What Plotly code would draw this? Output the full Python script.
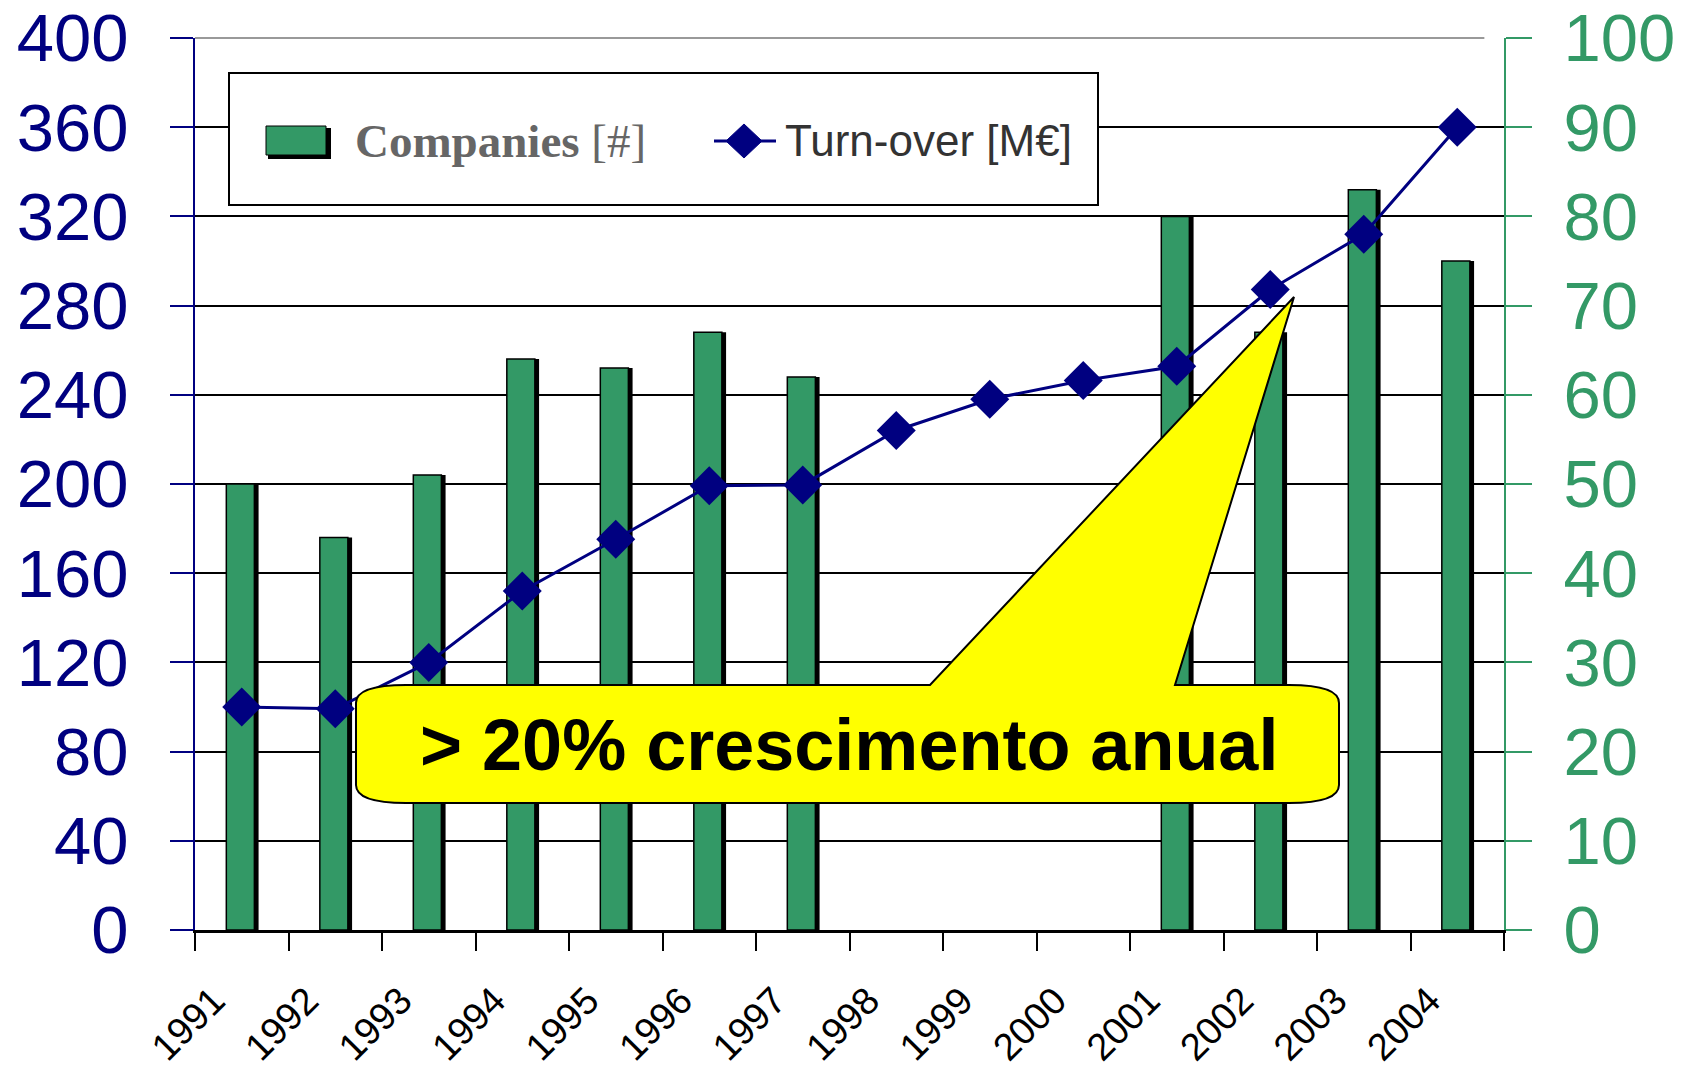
import plotly.graph_objects as go

# data
years = ["1991", "1992", "1993", "1994", "1995", "1996", "1997",
         "1998", "1999", "2000", "2001", "2002", "2003", "2004"]
companies = [200, 176, 204, 256, 252, 268, 248, None, None, None, 320, 268, 332, 300]
turnover = [25, 24.8, 30, 38, 43.8, 49.8, 49.9, 56, 59.5, 61.6, 63.2, 71.8, 78, 90]

NAVY = "#000080"
GREEN = "#339966"

W, H = 1691, 1069
PAGE_OFF = 8  # default body margin of the html page
L_PX, R_PX, T_PX, B_PX = 195, 1504, 38, 930  # plot area on screen


def pp(x, y):
    # screen pixel position -> paper coords
    return (x - L_PX) / (R_PX - L_PX), (B_PX - y) / (B_PX - T_PX)


def path(points_cmds):
    out = []
    for cmd, pts in points_cmds:
        coords = []
        for (x, y) in pts:
            px_, py_ = pp(x, y)
            coords.append(f"{px_:.5f},{py_:.5f}")
        out.append(cmd + " ".join(coords))
    return " ".join(out) + " Z"


fig = go.Figure()

# black shadow behind each bar
fig.add_trace(go.Bar(x=years, y=companies, yaxis="y", width=0.30, offset=-0.12,
                     marker=dict(color="black", line=dict(width=0)),
                     showlegend=False, hoverinfo="skip"))
fig.add_trace(go.Bar(x=years, y=companies, yaxis="y", width=0.30, offset=-0.165,
                     marker=dict(color=GREEN, line=dict(color="black", width=1.5)),
                     name="Companies [#]", showlegend=False))
fig.add_trace(go.Scatter(x=years, y=turnover, yaxis="y2", mode="lines+markers",
                         line=dict(color=NAVY, width=3),
                         marker=dict(symbol="diamond", size=30, color=NAVY),
                         name="Turn-over [M€]", showlegend=False))

shapes = []
# top border line (light grey, as in the original)
shapes.append(dict(type="line", xref="paper", yref="paper", x0=0, x1=0.985, y0=1, y1=1,
                   line=dict(color="#999999", width=2), layer="below"))
# legend box
x0, y0 = pp(229, 205)
x1, y1 = pp(1098, 73)
shapes.append(dict(type="rect", xref="paper", yref="paper", x0=x0, y0=y0, x1=x1, y1=y1,
                   fillcolor="white", line=dict(color="black", width=2), layer="above"))
# bar swatch (shadow + green)
sx0, sy0 = pp(268, 159)
sx1, sy1 = pp(331, 128)
shapes.append(dict(type="rect", xref="paper", yref="paper", x0=sx0, y0=sy0, x1=sx1, y1=sy1,
                   fillcolor="black", line=dict(width=0), layer="above"))
sx0, sy0 = pp(266, 155)
sx1, sy1 = pp(326, 126)
shapes.append(dict(type="rect", xref="paper", yref="paper", x0=sx0, y0=sy0, x1=sx1, y1=sy1,
                   fillcolor=GREEN, line=dict(color="black", width=1), layer="above"))
# line swatch + diamond
lx0, ly = pp(714, 141)
lx1, _ = pp(776, 141)
shapes.append(dict(type="line", xref="paper", yref="paper", x0=lx0, y0=ly, x1=lx1, y1=ly,
                   line=dict(color=NAVY, width=3), layer="above"))
shapes.append(dict(type="path", xref="paper", yref="paper", layer="above",
                   path=path([("M", [(744, 124)]), ("L", [(762, 141)]),
                              ("L", [(744, 158)]), ("L", [(726, 141)])]),
                   fillcolor=NAVY, line=dict(color=NAVY, width=1)))

# callout
cl, cr, ct, cb = 356, 1339, 685, 803
rx, ry = 50, 18
callout = path([
    ("M", [(cl + rx, ct)]),
    ("L", [(930, ct)]),
    ("L", [(1294, 297)]),
    ("L", [(1175, ct)]),
    ("L", [(cr - rx, ct)]),
    ("Q", [(cr, ct), (cr, ct + ry)]),
    ("L", [(cr, cb - ry)]),
    ("Q", [(cr, cb), (cr - rx, cb)]),
    ("L", [(cl + rx, cb)]),
    ("Q", [(cl, cb), (cl, cb - ry)]),
    ("L", [(cl, ct + ry)]),
    ("Q", [(cl, ct), (cl + rx, ct)]),
])
shapes.append(dict(type="path", xref="paper", yref="paper", layer="above", path=callout,
                   fillcolor="#FFFF00", line=dict(color="black", width=2)))

annotations = []
ax, ay = pp(353, 141)
annotations.append(dict(xref="paper", yref="paper", x=ax, y=ay, xanchor="left", yanchor="middle",
                        showarrow=False, text="<b>Companies</b> [#]",
                        font=dict(family="Liberation Serif", size=47, color="#666666")))
ax, ay = pp(783, 141)
annotations.append(dict(xref="paper", yref="paper", x=ax, y=ay, xanchor="left", yanchor="middle",
                        showarrow=False, text="Turn-over [M€]",
                        font=dict(family="Liberation Sans", size=44, color="#333333")))
ax, ay = pp(849, 745)
annotations.append(dict(xref="paper", yref="paper", x=ax, y=ay, xanchor="center", yanchor="middle",
                        showarrow=False, text="<b>&gt; 20% crescimento anual</b>",
                        font=dict(family="Liberation Sans", size=72, color="black")))

fig.update_layout(
    width=W, height=H,
    margin=dict(l=L_PX - PAGE_OFF, r=W - (R_PX - PAGE_OFF), t=T_PX - PAGE_OFF,
                b=H - (B_PX - PAGE_OFF), autoexpand=False),
    paper_bgcolor="white", plot_bgcolor="white",
    barmode="overlay",
    font=dict(family="Liberation Sans"),
    shapes=shapes, annotations=annotations,
    xaxis=dict(type="category", range=[-0.5, 13.5], tickson="boundaries",
               ticks="outside", ticklen=18, tickwidth=2, tickcolor="black",
               showline=True, linecolor="black", linewidth=3,
               tickangle=-45, tickfont=dict(size=38, color="black"),
               ticklabelstandoff=30, ticklabelshift=-28, automargin=False,
               ticklabeloverflow="allow", showgrid=False),
    yaxis=dict(range=[0, 400], dtick=40, ticks="outside", ticklen=23, tickwidth=2,
               tickcolor=NAVY, showline=True, linecolor=NAVY, linewidth=2,
               tickfont=dict(size=67, color=NAVY), ticklabelstandoff=28,
               ticklabeloverflow="allow", automargin=False,
               showgrid=True, gridcolor="black", gridwidth=2, zeroline=False),
    yaxis2=dict(range=[0, 100], dtick=10, overlaying="y", side="right",
                ticks="outside", ticklen=26, tickwidth=2, tickcolor=GREEN,
                showline=True, linecolor=GREEN, linewidth=2,
                tickfont=dict(size=67, color=GREEN), ticklabelstandoff=18,
                ticklabeloverflow="allow", automargin=False,
                showgrid=False, zeroline=False),
)

fig.write_html("out.html")
